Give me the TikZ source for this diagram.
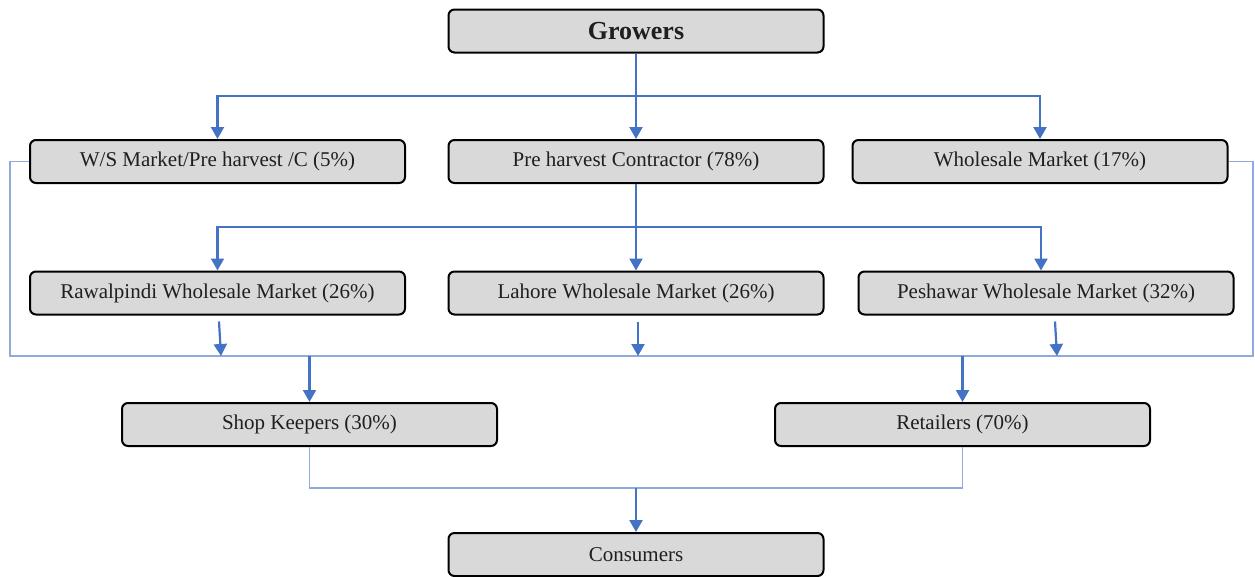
\documentclass[tikz,border=0pt]{standalone}
\usepackage{fontspec}
\setmainfont{Liberation Serif}
\usetikzlibrary{arrows.meta}
\definecolor{flowblue}{HTML}{4472C4}
\definecolor{thinblue}{HTML}{8FAADC}
\definecolor{boxgray}{HTML}{D9D9D9}
\begin{document}
\begin{tikzpicture}[x=1pt,y=-1pt,
  stage/.style={draw=black, line width=2pt, fill=boxgray, rounded corners=6pt,
    minimum width=375pt, minimum height=43pt, inner sep=0pt,
    font=\fontsize{21}{24}\selectfont, text=black!88},
  flow/.style={draw=flowblue, line width=2.2pt, -{Triangle[width=13pt,length=12pt]}},
  feed/.style={draw=flowblue, line width=2.2pt},
  bypass/.style={draw=thinblue, line width=1.3pt}]
\useasboundingbox (0,0) rectangle (1255,576);

% stages of the marketing channel
\node[stage, font=\bfseries\fontsize{26}{28}\selectfont] (grow) at (636,31) {Growers};
\node[stage] (ws)  at (217.5,161.5) {W/S Market/Pre harvest /C (5\%)};
\node[stage] (pre) at (636,161.5)   {Pre harvest Contractor (78\%)};
\node[stage] (whm) at (1040,161.5)  {Wholesale Market (17\%)};
\node[stage] (rwp) at (217.5,293)   {Rawalpindi Wholesale Market (26\%)};
\node[stage] (lhr) at (636,293)     {Lahore Wholesale Market (26\%)};
\node[stage] (psh) at (1046,293)    {Peshawar Wholesale Market (32\%)};
\node[stage] (shop) at (309.5,424.5) {Shop Keepers (30\%)};
\node[stage] (ret)  at (962.5,424.5) {Retailers (70\%)};
\node[stage] (cons) at (636,554.5)   {Consumers};

% junction points of the connector buses
\coordinate (busA) at (636,96);
\coordinate (busB) at (636,227);
\coordinate (lc) at (10,356);
\coordinate (rc) at (1253,356);
\coordinate (busD) at (636,488);
\coordinate (rwpIn) at (221,356);
\coordinate (lhrIn) at (638,356);
\coordinate (pshIn) at (1057,356);

% growers to first-level buyers
\draw[flow] (grow.south) -- (pre.north);
\draw[flow] (busA) -| (ws.north);
\draw[flow] (busA) -| (whm.north);

% contractor to the three wholesale markets
\draw[feed] (pre.south) -- (busB);
\draw[flow] (busB) -| (rwp.north);
\draw[flow] (busB) -- (lhr.north);
\draw[flow] (busB) -| ([xshift=-5pt]psh.north);

% bypass lines and the collecting bus
\draw[bypass] (ws.west) -| (lc) -- (rc) |- (whm.east);

% wholesale markets onto the bus
\draw[flow] ([xshift=1.5pt,yshift=-6pt]rwp.south) -- (rwpIn);
\draw[flow] ([xshift=2pt,yshift=-6pt]lhr.south) -- (lhrIn);
\draw[flow] ([xshift=9pt,yshift=-6pt]psh.south) -- (pshIn);

% bus to shop keepers and retailers
\draw[flow] (shop.north |- lc) -- (shop.north);
\draw[flow] (ret.north |- lc) -- (ret.north);

% to consumers
\draw[bypass] (shop.south) |- (ret.south |- busD) -- (ret.south);
\draw[flow] (busD) -- (cons.north);
\end{tikzpicture}
\end{document}
